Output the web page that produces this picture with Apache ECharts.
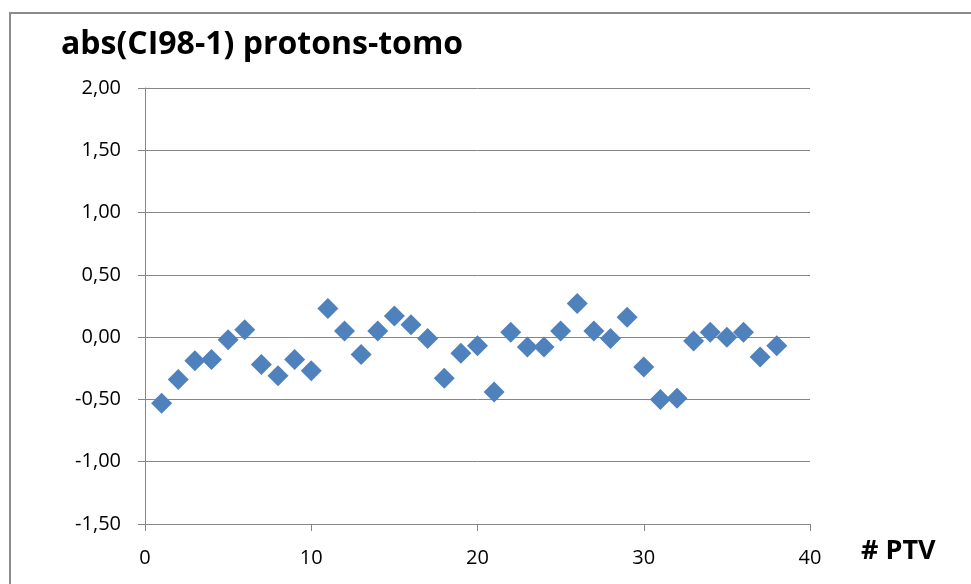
<!DOCTYPE html>
<html>
<head>
<meta charset="utf-8">
<title>abs(CI98-1) protons-tomo</title>
<script src="https://cdn.jsdelivr.net/npm/echarts@6/dist/echarts.min.js"></script>
<style>
  html, body { margin: 0; padding: 0; background: #fff; }
  #chart { width: 971px; height: 584px; }
</style>
</head>
<body>
<div id="chart"></div>
<script>
// PTV number and value
const ptv = [1, 2, 3, 4, 5, 6, 7, 8, 9, 10, 11, 12, 13, 14, 15, 16, 17, 18, 19,
  20, 21, 22, 23, 24, 25, 26, 27, 28, 29, 30, 31, 32, 33, 34, 35, 36, 37, 38]
const values = [-0.53, -0.34, -0.19, -0.18, -0.02, 0.06, -0.22, -0.31, -0.18, -0.27,
  0.23, 0.05, -0.14, 0.05, 0.17, 0.10, -0.01, -0.33, -0.13, -0.07,
  -0.44, 0.04, -0.08, -0.08, 0.05, 0.27, 0.05, -0.01, 0.16, -0.24,
  -0.50, -0.49, -0.03, 0.04, 0.00, 0.04, -0.16, -0.07]

const yMin = -1.5
const yMax = 2.0
const yStep = 0.5
const xMin = 0
const xMax = 40
const xStep = 10

const font = '"Open Sans", sans-serif'
const axisGrey = '#868686'

const chart = echarts.init(document.getElementById('chart'))
chart.setOption({
  animation: false,
  textStyle: { fontFamily: font },
  title: {
    text: 'abs(CI98-1) protons-tomo',
    left: 56,
    top: 24,
    textStyle: { fontSize: 32, fontWeight: 'bold', color: '#000', fontFamily: font }
  },
  graphic: [{
    // chart frame
    type: 'rect',
    shape: { x: 10, y: 13, width: 980, height: 600 },
    style: { fill: 'none', stroke: '#8c8c8c', lineWidth: 2 },
    silent: true
  }],
  grid: { left: 145, right: 161, top: 88, bottom: 60, containLabel: false },
  xAxis: {
    type: 'value',
    min: xMin,
    max: xMax,
    interval: xStep,
    name: '# PTV',
    nameLocation: 'end',
    nameGap: 51,
    nameTextStyle: { fontSize: 27, fontWeight: 'bold', color: '#000', fontFamily: font, verticalAlign: 'top', padding: [14, 0, 0, 0] },
    axisLine: { onZero: false, lineStyle: { color: axisGrey, width: 1 } },
    axisTick: { show: true, length: 7, lineStyle: { color: axisGrey } },
    axisLabel: { fontSize: 20, color: '#000', margin: 24 },
    splitLine: { show: false }
  },
  yAxis: {
    type: 'value',
    min: yMin,
    max: yMax,
    interval: yStep,
    axisLine: { show: true, lineStyle: { color: axisGrey, width: 1 } },
    axisTick: { show: true, length: 7, lineStyle: { color: axisGrey } },
    axisLabel: {
      fontSize: 20,
      color: '#000',
      margin: 24,
      formatter: v => v.toFixed(2).replace('.', ',')
    },
    splitLine: { show: true, lineStyle: { color: axisGrey, width: 1 } }
  },
  series: [{
    type: 'scatter',
    symbol: 'diamond',
    symbolSize: [21, 21],
    itemStyle: { color: '#4f81bd', opacity: 1 },
    data: ptv.map((p, i) => [p, values[i]])
  }]
})
</script>
</body>
</html>
